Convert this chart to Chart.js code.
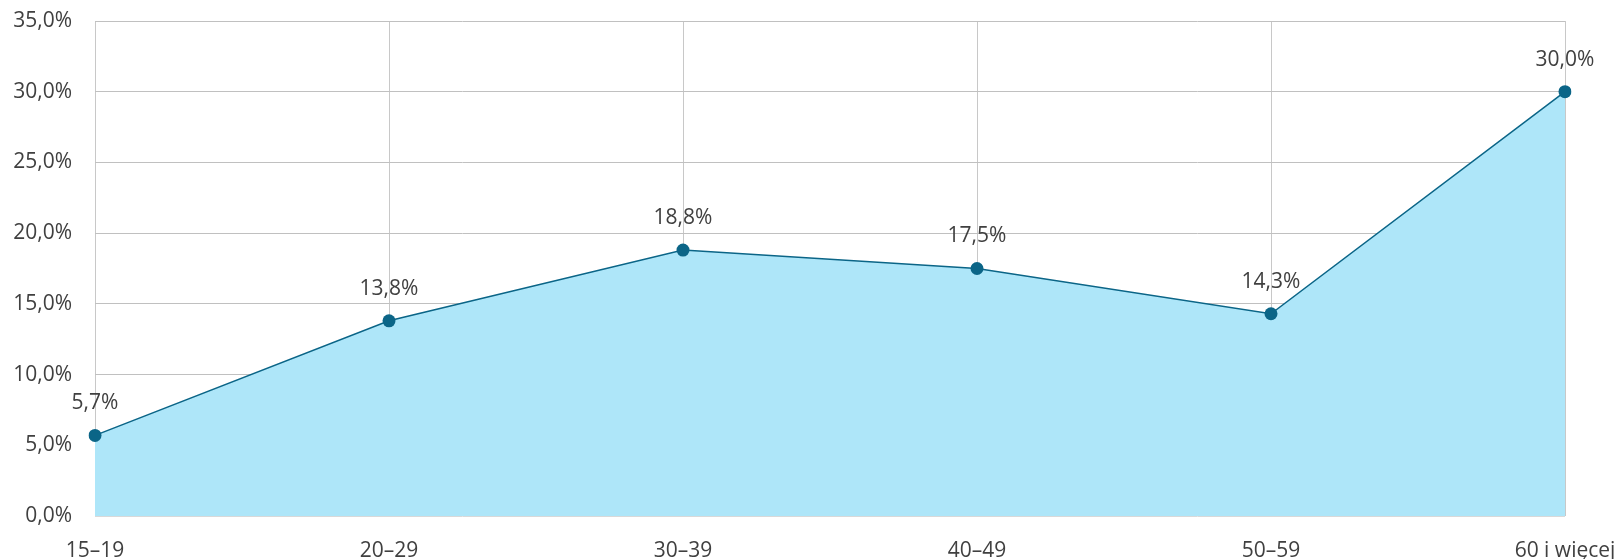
<!DOCTYPE html>
<html>
<head>
<meta charset="utf-8">
<script src="https://cdn.jsdelivr.net/npm/chart.js@4/dist/chart.umd.min.js"></script>
<style>
	html, body { margin: 0; padding: 0; background: #fff; }
	#wrap { width: 1618px; height: 559px; }
</style>
</head>
<body>
<div id="wrap"><canvas id="chart" width="1618" height="559"></canvas></div>
<script>
// age groups and share per group (percent)
const categories = ["15–19", "20–29", "30–39", "40–49", "50–59", "60 i więcej"];
const shares = [5.7, 13.8, 18.8, 17.5, 14.3, 30.0];
const yTicks = [0, 5, 10, 15, 20, 25, 30, 35];

const fontFamily = "'Open Sans', 'Noto Sans', sans-serif";
const textColor = "#404040";

const pct = (v) => v.toFixed(1).replace(".", ",") + "%";

// value labels above every point
const pointLabels = {
	id: "pointLabels",
	afterDatasetsDraw(chart) {
		const ctx = chart.ctx;
		const meta = chart.getDatasetMeta(0);
		ctx.save();
		ctx.font = "21px " + fontFamily;
		ctx.fillStyle = textColor;
		ctx.textAlign = "center";
		ctx.textBaseline = "middle";
		meta.data.forEach((pt, i) => {
			ctx.fillText(pct(shares[i]), pt.x, pt.y - 32);
		});
		ctx.restore();
	}
};

new Chart(document.getElementById("chart"), {
	type: "line",
	data: {
		labels: categories,
		datasets: [{
			data: shares,
			fill: "origin",
			backgroundColor: "#aee6f9",
			borderColor: "#0b6587",
			borderWidth: 1.5,
			tension: 0,
			pointRadius: 6.5,
			pointHoverRadius: 6.5,
			pointBackgroundColor: "#0b6587",
			pointBorderWidth: 0
		}]
	},
	options: {
		responsive: false,
		animation: false,
		layout: { padding: { top: 21, right: 53, left: 0, bottom: 0 } },
		plugins: {
			legend: { display: false },
			tooltip: { enabled: false }
		},
		scales: {
			x: {
				offset: false,
				grid: { color: "#c8c8c8", lineWidth: 1, drawTicks: false },
				border: { display: false },
				ticks: {
					color: textColor,
					font: { family: fontFamily, size: 21 },
					padding: 22,
					maxRotation: 0
				},
				afterFit: (s) => {
					s.height = 43;
					s.paddingLeft = 0;
					s.paddingRight = 0;
				}
			},
			y: {
				min: 0,
				max: 35,
				afterBuildTicks: (s) => { s.ticks = yTicks.map(v => ({ value: v })); },
				grid: {
					color: (c) => c.index === 0 ? "#d9d9d9" : "#c0c0c0",
					lineWidth: 1,
					drawTicks: false
				},
				border: { display: false },
				ticks: {
					color: textColor,
					font: { family: fontFamily, size: 21 },
					padding: 23,
					callback: (v) => pct(v)
				},
				afterFit: (s) => {
					s.width = 95;
					s.paddingTop = 0;
					s.paddingBottom = 0;
				}
			}
		}
	},
	plugins: [pointLabels]
});
</script>
</body>
</html>
